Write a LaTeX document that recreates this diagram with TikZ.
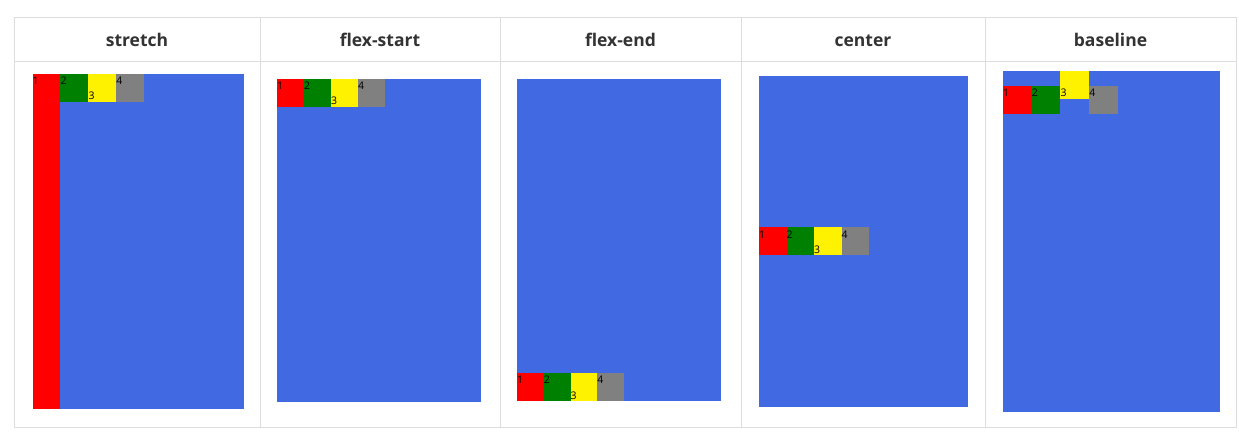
\documentclass[tikz,border=0pt]{standalone}
\usepackage{fontspec}
\setmainfont{Open Sans}
\usetikzlibrary{calc}
\definecolor{panelBlue}{HTML}{4169E1}
\definecolor{lineGray}{HTML}{DDDDDD}
\definecolor{headText}{HTML}{333333}
\definecolor{itemGreen}{HTML}{008000}
\definecolor{itemGray}{HTML}{808080}

\begin{document}
\begin{tikzpicture}[x=1pt, y=-1pt,
        panel/.style={fill=panelBlue, anchor=north west, inner sep=0, outer sep=0},
        item/.style={anchor=north west, inner sep=0, outer sep=0, minimum width=27.5pt, minimum height=28pt},
        num/.style={anchor=base west, inner sep=0, font=\fontsize{10.5}{12}\selectfont},
        head/.style={anchor=base, font=\fontsize{17.5}{21}\selectfont\bfseries, text=headText}]
        \useasboundingbox (0,0) rectangle (1239,443);

        % Table
        \draw[lineGray] (14,17) rectangle (1236,427);
        \draw[lineGray] (14,61) -- (1236,61);
        \draw[lineGray] (260,17) -- (260,427);
        \draw[lineGray] (500,17) -- (500,427);
        \draw[lineGray] (741,17) -- (741,427);
        \draw[lineGray] (985,17) -- (985,427);

        \node[head] (headStretch) at (137,46.5) {stretch};
        \node[head] (headStart) at (380,46.5) {flex-start};
        \node[head] (headEnd) at (620.5,46.5) {flex-end};
        \node[head] (headCenter) at (863,46.5) {center};
        \node[head] (headBase) at (1110.5,46.5) {baseline};

        % stretch
        \node[panel, minimum width=211.5pt, minimum height=335pt] (stretchBox) at (32.5,74) {};
        \node[item, fill=red, minimum height=335pt, minimum width=27.9pt] (stretch1) at (stretchBox.north west) {};
        \node[item, fill=itemGreen, minimum width=27.9pt] (stretch2) at (stretch1.north east) {};
        \node[item, fill=yellow, minimum width=27.9pt] (stretch3) at (stretch2.north east) {};
        \node[item, fill=itemGray, minimum width=27.9pt] (stretch4) at (stretch3.north east) {};
        \node[num] (stretch1n) at ($(stretch1.north west)+(0,11)$) {1};
        \node[num] (stretch2n) at ($(stretch2.north west)+(0,11)$) {2};
        \node[num] (stretch3n) at ($(stretch3.south west)+(0,-2)$) {3};
        \node[num] (stretch4n) at ($(stretch4.north west)+(0,11)$) {4};

        % flex-start
        \node[panel, minimum width=204pt, minimum height=323pt] (startBox) at (277,79) {};
        \node[item, fill=red, minimum width=27pt] (start1) at (startBox.north west) {};
        \node[item, fill=itemGreen, minimum width=27pt] (start2) at (start1.north east) {};
        \node[item, fill=yellow, minimum width=27pt] (start3) at (start2.north east) {};
        \node[item, fill=itemGray, minimum width=27pt] (start4) at (start3.north east) {};
        \node[num] (start1n) at ($(start1.north west)+(0,11)$) {1};
        \node[num] (start2n) at ($(start2.north west)+(0,11)$) {2};
        \node[num] (start3n) at ($(start3.south west)+(0,-2)$) {3};
        \node[num] (start4n) at ($(start4.north west)+(0,11)$) {4};

        % flex-end
        \node[panel, minimum width=203.5pt, minimum height=322pt] (endBox) at (517,79) {};
        \node[item, fill=red, anchor=south west, minimum width=26.75pt] (end1) at (endBox.south west) {};
        \node[item, fill=itemGreen, minimum width=26.75pt] (end2) at (end1.north east) {};
        \node[item, fill=yellow, minimum width=26.75pt] (end3) at (end2.north east) {};
        \node[item, fill=itemGray, minimum width=26.75pt] (end4) at (end3.north east) {};
        \node[num] (end1n) at ($(end1.north west)+(0,11)$) {1};
        \node[num] (end2n) at ($(end2.north west)+(0,11)$) {2};
        \node[num] (end3n) at ($(end3.south west)+(0,-2)$) {3};
        \node[num] (end4n) at ($(end4.north west)+(0,11)$) {4};

        % center
        \node[panel, minimum width=209pt, minimum height=331pt] (centerBox) at (759,76) {};
        \node[item, fill=red, anchor=west] (center1) at (centerBox.west) {};
        \node[item, fill=itemGreen] (center2) at (center1.north east) {};
        \node[item, fill=yellow] (center3) at (center2.north east) {};
        \node[item, fill=itemGray] (center4) at (center3.north east) {};
        \node[num] (center1n) at ($(center1.north west)+(0,11)$) {1};
        \node[num] (center2n) at ($(center2.north west)+(0,11)$) {2};
        \node[num] (center3n) at ($(center3.south west)+(0,-2)$) {3};
        \node[num] (center4n) at ($(center4.north west)+(0,11)$) {4};

        % baseline
        \node[panel, minimum width=217pt, minimum height=340.5pt] (baseBox) at (1003,71) {};
        \node[item, fill=red, minimum width=28.7pt] (base1) at ($(baseBox.north west)+(0,15)$) {};
        \node[item, fill=itemGreen, minimum width=28.7pt] (base2) at (base1.north east) {};
        \node[item, fill=yellow, minimum width=28.7pt] (base3) at ($(base2.north east)+(0,-15)$) {};
        \node[item, fill=itemGray, minimum width=28.7pt] (base4) at ($(base3.north east)+(0,15)$) {};
        \node[num] (base1n) at ($(base1.north west)+(0,11)$) {1};
        \node[num] (base2n) at ($(base2.north west)+(0,11)$) {2};
        \node[num] (base3n) at ($(base3.south west)+(0,-2)$) {3};
        \node[num] (base4n) at ($(base4.north west)+(0,11)$) {4};
\end{tikzpicture}
\end{document}
